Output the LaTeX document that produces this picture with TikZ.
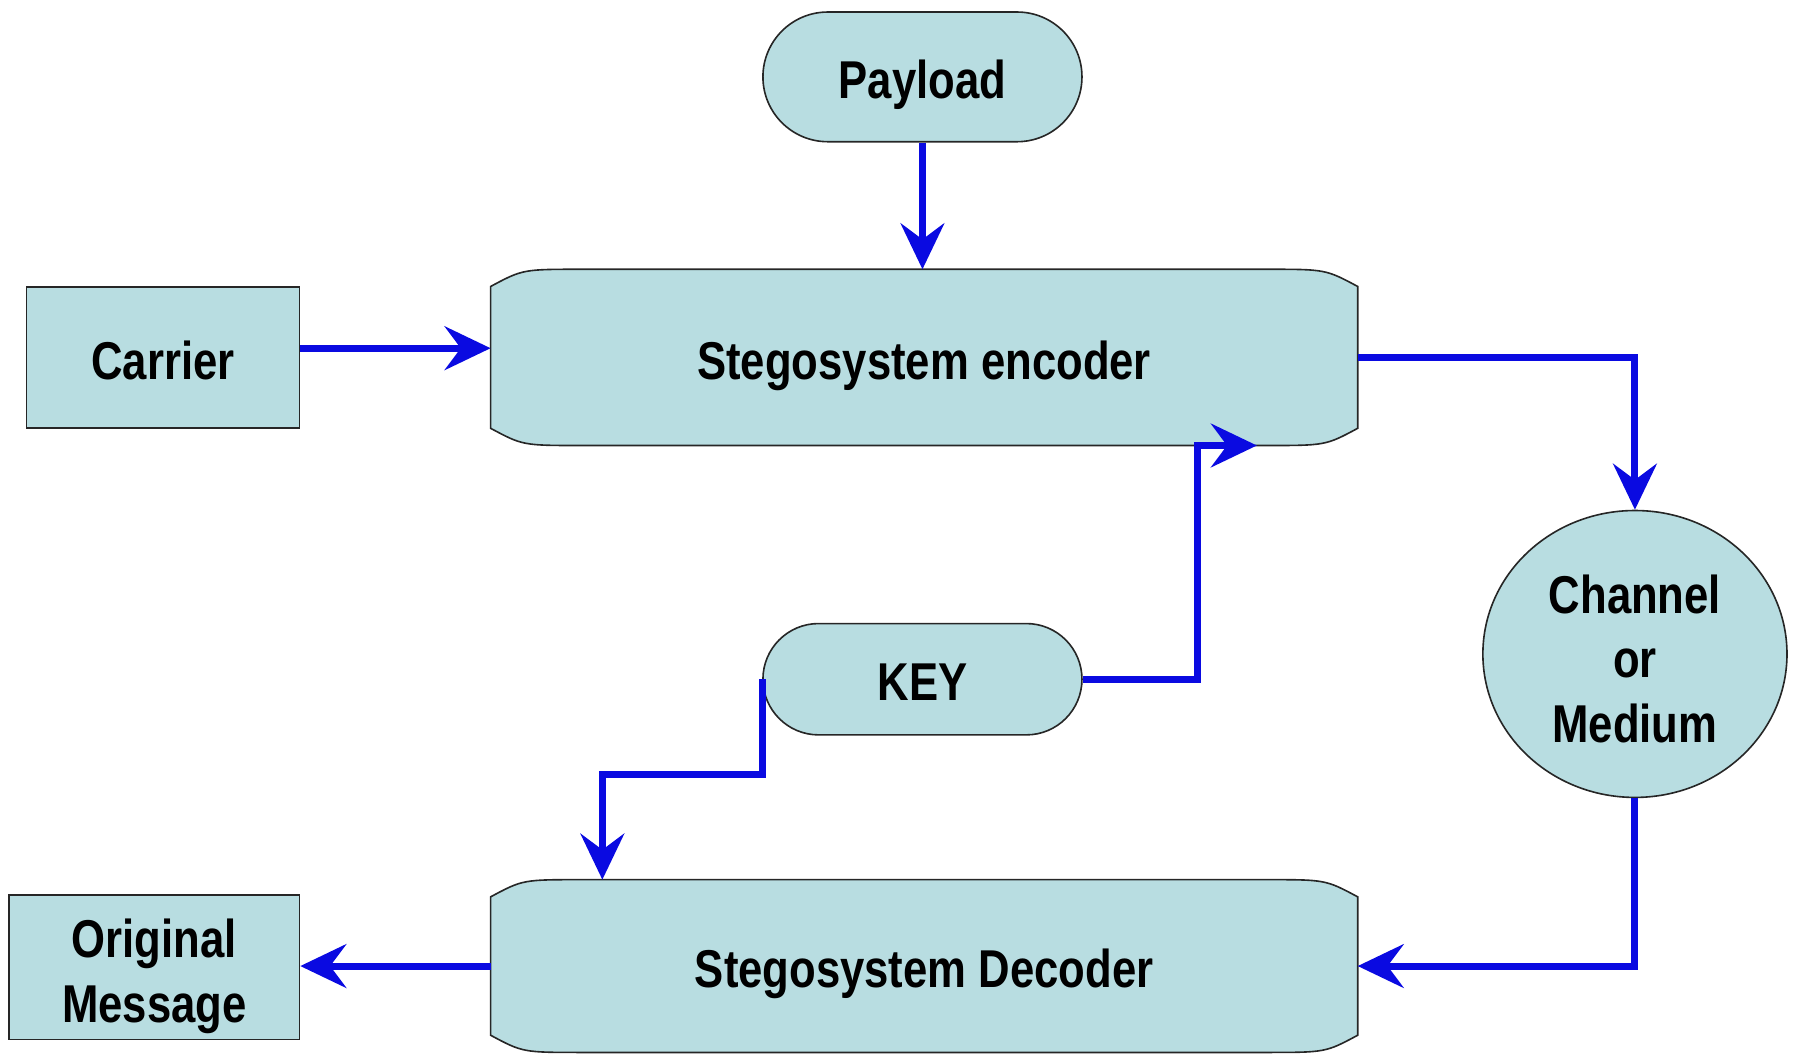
\documentclass[tikz,border=0pt]{standalone}
\usepackage{fontspec}
\newfontfamily\lblfont{Liberation Sans}[FakeStretch=0.82]
\usetikzlibrary{shapes.misc,shapes.geometric,arrows.meta,calc,backgrounds}
\definecolor{boxfill}{RGB}{184,221,225}
\definecolor{flowblue}{RGB}{10,10,225}
\tikzset{
  lbl/.style={font=\lblfont\bfseries\fontsize{33}{40}\selectfont, align=center},
  oneline/.style={text height=27pt, text depth=0pt},
  boxline/.style={draw=black!85, line width=1pt, fill=boxfill},
  box/.style={lbl, boxline},
  pill/.style={box, oneline, rounded rectangle, inner sep=0pt},
  flow/.style={draw=flowblue, line width=4.4pt, -{Stealth[length=1cm,width=0.95cm,inset=0.35cm]}}
}

\begin{document}
\begin{tikzpicture}[x=0.025cm, y=0.025cm]
\useasboundingbox (0,0) rectangle (1568,-919);

\node[pill, minimum width=6.95cm, minimum height=2.825cm] (pay) at (804,-67) {Payload};
\node[lbl, oneline, minimum width=18.875cm, minimum height=3.825cm] (enc) at (805.5,-311.5) {Stegosystem encoder};
\node[box, oneline, minimum width=5.95cm, minimum height=3.075cm] (car) at (142,-311.5) {Carrier};
\node[box, ellipse, inner sep=0pt, minimum width=6.625cm, minimum height=6.25cm] (chan) at (1425,-570) {\rule{0pt}{29.6pt}Channel\\or\\Medium};
\node[pill, minimum width=6.95cm, minimum height=2.425cm] (key) at (804,-592) {KEY};
\node[lbl, oneline, minimum width=18.875cm, minimum height=3.75cm] (dec) at (805.5,-842) {Stegosystem Decoder};
\node[box, minimum width=6.325cm, minimum height=3.15cm] (orig) at (134.5,-843) {\rule{0pt}{35pt}Original\\Message};

% encoder and decoder outlines
\begin{scope}[on background layer]
\foreach \n in {enc,dec}
  \filldraw[boxline] ($(\n.north west)+(80,0)$) -- ($(\n.north east)+(-80,0)$)
    .. controls ($(\n.north east)+(-28,0)$) .. ($(\n.north east)+(0,-15)$)
    -- ($(\n.south east)+(0,15)$)
    .. controls ($(\n.south east)+(-28,0)$) .. ($(\n.south east)+(-80,0)$)
    -- ($(\n.south west)+(80,0)$)
    .. controls ($(\n.south west)+(28,0)$) .. ($(\n.south west)+(0,15)$)
    -- ($(\n.north west)+(0,-15)$)
    .. controls ($(\n.north west)+(28,0)$) .. ($(\n.north west)+(80,0)$) -- cycle;
\end{scope}

\coordinate (carout) at ([yshift=0.2cm]car.east);
\coordinate (kd) at (525,-675);

\draw[flow] (pay.south) -- (pay.south |- enc.north);
\draw[flow] (carout) -- (carout -| enc.west);
\draw[flow] (enc.east) -| (chan.north);
\draw[flow] (key.east) -- ++(100,0) |- ($(enc.south)+(290,0)$);
\draw[flow] (key.west) |- (kd) -- (kd |- dec.north);
\draw[flow] (chan.south) |- (dec.east);
\draw[flow] (dec.west) -- (dec.west -| orig.east);
\end{tikzpicture}
\end{document}
